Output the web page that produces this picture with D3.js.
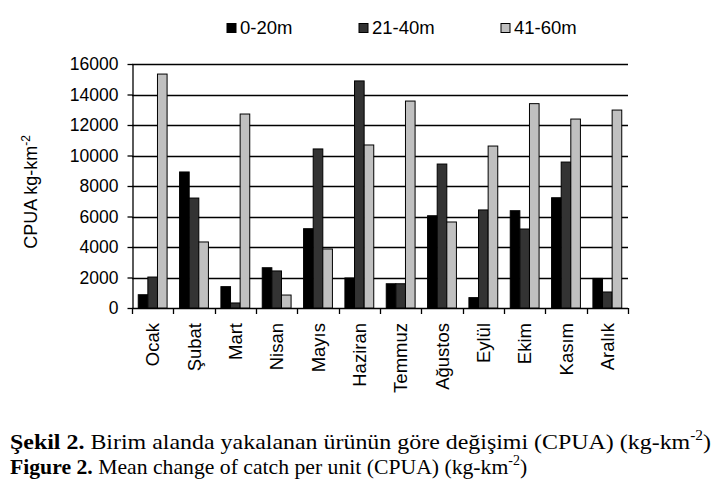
<!DOCTYPE html>
<html>
<head>
<meta charset="utf-8">
<script src="https://cdn.jsdelivr.net/npm/d3@7"></script>
<style>
  body { margin: 0; background: #fff; }
  svg { display: block; }
</style>
</head>
<body>
<script>
const months = ['Ocak', 'Şubat', 'Mart', 'Nisan', 'Mayıs', 'Haziran', 'Temmuz', 'Ağustos', 'Eylül', 'Ekim', 'Kasım', 'Aralık']
const seriesNames = ['0-20m', '21-40m', '41-60m']
const depth0to20 = [870, 8920, 1400, 2640, 5200, 1970, 1590, 6050, 680, 6380, 7230, 1940]
const depth21to40 = [2030, 7210, 330, 2430, 10430, 14890, 1590, 9440, 6430, 5180, 9570, 1050]
const depth41to60 = [15340, 4330, 12720, 850, 3870, 10690, 13570, 5640, 10620, 13400, 12390, 12980]
const yTicks = [0, 2000, 4000, 6000, 8000, 10000, 12000, 14000, 16000]
const colors = ['#000000', '#333333', '#c0c0c0']

const width = 718
const height = 491
const margin = { left: 132, right: 90, top: 64, bottom: 183 }

const svg = d3.select('body').append('svg')
  .attr('width', width)
  .attr('height', height)
  .style('font-family', '"Liberation Sans", Arial, sans-serif')

const x0 = d3.scaleBand()
  .domain(months)
  .range([margin.left, width - margin.right])
  .paddingInner(0)
  .paddingOuter(0)

const x1 = d3.scaleBand()
  .domain(seriesNames)
  .range([0, x0.bandwidth()])
  .paddingInner(0)
  .paddingOuter(0.65)

const y = d3.scaleLinear()
  .domain([0, 16000])
  .range([height - margin.bottom, margin.top])

// gridlines
svg.append('g')
  .selectAll('line')
  .data(yTicks)
  .enter().append('line')
  .attr('x1', margin.left)
  .attr('x2', width - margin.right)
  .attr('y1', d => Math.round(y(d)) + 0.5)
  .attr('y2', d => Math.round(y(d)) + 0.5)
  .attr('stroke', '#000')
  .attr('stroke-width', 1.3)

// bars
const data = months.map((m, i) => ({
  month: m,
  values: [depth0to20[i], depth21to40[i], depth41to60[i]]
}))

svg.append('g')
  .selectAll('g')
  .data(data)
  .enter().append('g')
  .attr('transform', d => 'translate(' + x0(d.month) + ',0)')
  .selectAll('rect')
  .data(d => d.values.map((v, k) => ({ key: seriesNames[k], value: v, k: k })))
  .enter().append('rect')
  .attr('x', d => x1(d.key))
  .attr('width', x1.bandwidth())
  .attr('y', d => y(d.value))
  .attr('height', d => y(0) - y(d.value))
  .attr('fill', d => colors[d.k])
  .attr('stroke', '#000')
  .attr('stroke-width', 1)

// y axis
const yAxis = svg.append('g')
  .attr('transform', 'translate(' + (margin.left + 0.5) + ',0)')
  .call(d3.axisLeft(y).tickValues(yTicks).tickSize(5).tickSizeOuter(0).tickPadding(9).tickFormat(d3.format('d')))
yAxis.selectAll('path, line').attr('stroke', '#000').attr('stroke-width', 1.3)
yAxis.selectAll('text')
  .attr('fill', '#000')
  .style('font-size', '17.5px')
  .style('font-family', '"Liberation Sans", Arial, sans-serif')

// x ticks at band edges
const edges = months.map(m => x0(m)).concat([x0.range()[1]])
svg.append('g')
  .selectAll('line')
  .data(edges)
  .enter().append('line')
  .attr('x1', d => Math.round(d) + 0.5)
  .attr('x2', d => Math.round(d) + 0.5)
  .attr('y1', y(0))
  .attr('y2', y(0) + 6)
  .attr('stroke', '#000')
  .attr('stroke-width', 1.3)

// x labels
svg.append('g')
  .selectAll('text')
  .data(months)
  .enter().append('text')
  .attr('transform', d => 'translate(' + (x0(d) + x0.bandwidth() / 2 + 6.5) + ',' + (y(0) + 15) + ') rotate(-90)')
  .attr('text-anchor', 'end')
  .style('font-size', '18.5px')
  .text(d => d)

// y title
const yTitle = svg.append('text')
  .attr('transform', 'translate(37,192) rotate(-90)')
  .attr('text-anchor', 'middle')
  .style('font-size', '18px')
yTitle.append('tspan').text('CPUA kg-km')
yTitle.append('tspan').attr('dy', -7).style('font-size', '12px').text('-2')

// legend
const legendX = [227, 359, 501]
const legend = svg.append('g')
  .selectAll('g')
  .data(seriesNames)
  .enter().append('g')
  .attr('transform', (d, i) => 'translate(' + legendX[i] + ',23.5)')
legend.append('rect')
  .attr('width', 9)
  .attr('height', 9)
  .attr('fill', (d, i) => colors[i])
  .attr('stroke', '#000')
  .attr('stroke-width', 1)
legend.append('text')
  .attr('x', 13)
  .attr('y', 10.5)
  .style('font-size', '18.5px')
  .text(d => d)

// caption
const cap = svg.append('g')
  .style('font-family', '"Liberation Serif", "Times New Roman", serif')
  .style('font-size', '21.7px')
const line1 = cap.append('text')
  .attr('transform', 'translate(10,449) scale(1.103,1)')
line1.append('tspan').style('font-weight', 'bold').text('Şekil 2.')
line1.append('tspan').text(' Birim alanda yakalanan ürünün göre değişimi (CPUA) (kg-km')
line1.append('tspan').attr('dy', -9).style('font-size', '14px').text('-2')
line1.append('tspan').attr('dy', 9).text(')')
const line2 = cap.append('text').attr('x', 10).attr('y', 474)
line2.append('tspan').style('font-weight', 'bold').text('Figure 2.')
line2.append('tspan').text(' Mean change of catch per unit (CPUA) (kg-km')
line2.append('tspan').attr('dy', -9).style('font-size', '14px').text('-2')
line2.append('tspan').attr('dy', 9).text(')')
</script>
</body>
</html>
